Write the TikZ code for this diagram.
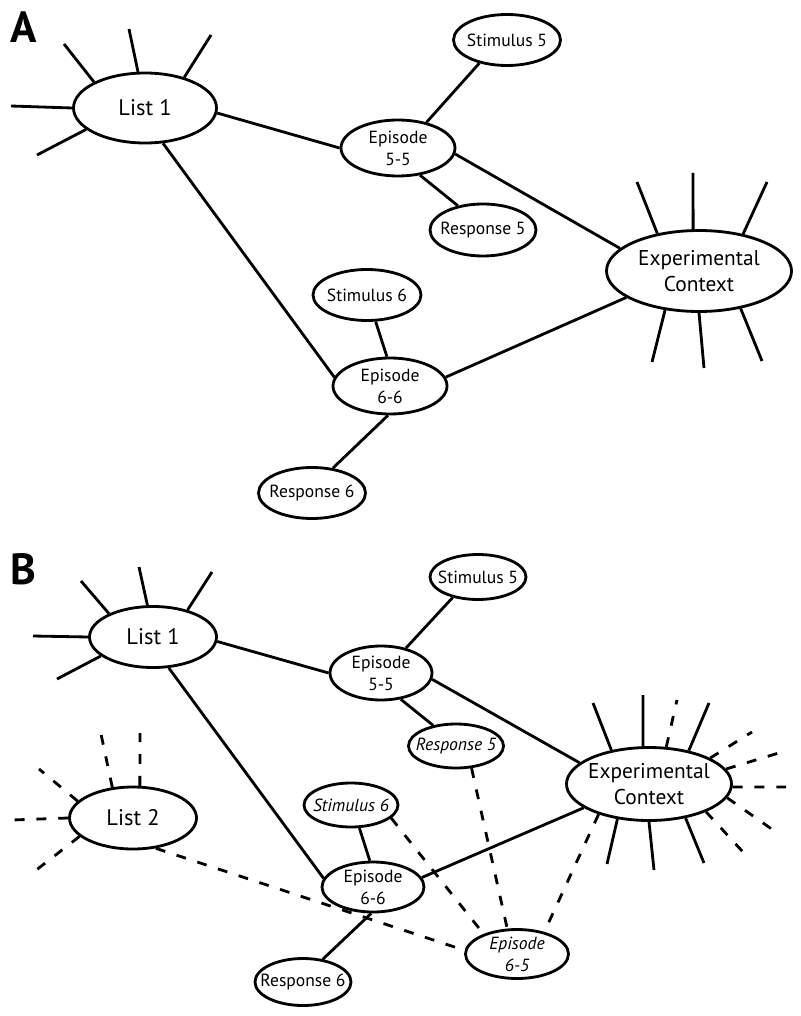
\documentclass[tikz,border=0pt]{standalone}
\usepackage{fontspec}
\setmainfont{PT Sans}
\usetikzlibrary{shapes.geometric}
\newcommand\lblfont{\fontsize{12.5}{15.6}\selectfont}
\newcommand\listfont{\fontsize{16}{19}\selectfont}
\newcommand\ctxfont{\fontsize{15.2}{19}\selectfont}

\begin{document}
\begin{tikzpicture}[x=0.025cm,y=-0.025cm,
    blob/.style={ellipse,draw,line width=2pt,inner sep=0pt,align=center,font=\lblfont},
    sz/.style 2 args={minimum width=#1*0.025cm,minimum height=#2*0.025cm},
    flat/.style={inner xsep=-7.5pt},
    slant/.style={font=\lblfont\itshape},
    big/.style={font=\listfont},
    ctx/.style={font=\ctxfont,inner xsep=-3pt},
    ep/.style={inner ysep=-2pt},
    link/.style={line width=2pt},
    dashlink/.style={line width=2pt,dash pattern=on 7pt off 8.5pt},
    panel/.style={font=\fontsize{31}{31}\selectfont\bfseries}]
    \useasboundingbox (0,0) rectangle (800,1016);

    % panel A
    \node[panel] (labA) at (24,27) {A};
    \node[blob,big,sz={143}{70}] (lstA) at (145,108) {List 1};
    \node[blob,ep,sz={114}{56}] (ep55A) at (398,148) {Episode\\5-5};
    \node[blob,flat,sz={107}{51}] (stim5A) at (507,40) {Stimulus 5};
    \node[blob,flat,sz={106}{52}] (resp5A) at (483,230) {Response 5};
    \node[blob,ctx,sz={185}{81}] (ctxA) at (699,271) {Experimental\\Context};
    \node[blob,flat,sz={108}{51}] (stim6A) at (367,295) {Stimulus 6};
    \node[blob,ep,sz={114}{56}] (ep66A) at (390,386) {Episode\\6-6};
    \node[blob,flat,sz={107}{51}] (resp6A) at (312,493) {Response 6};

    \foreach \a/\x/\y in {153/64/44, 101/129/29, 38/211/35, 180/11/106, 200/37/155}
      \draw[link] (lstA.\a) -- (\x,\y);
    \foreach \a/\x/\y in {138/637/182, 98/693/173, 40/767/182, 229/652/362, 270/704/368, 318/762/361}
      \draw[link] (ctxA.\a) -- (\x,\y);

    \draw[link] (lstA.356) -- (ep55A.180);
    \draw[link] (lstA.297) -- (ep66A.171);
    \draw[link] (stim5A.220) -- (ep55A.42);
    \draw[link] (ep55A.309) -- (resp5A.136);
    \draw[link] (ep55A.354) -- (ctxA.164);
    \draw[link] (stim6A.288) -- (ep66A.96);
    \draw[link] (ep66A.266) -- (resp6A.50);
    \draw[link] (ep66A.9) -- (ctxA.200);

    % panel B
    \node[panel] (labB) at (23,569) {B};
    \node[blob,big,sz={127}{61}] (lstB) at (153,637) {List 1};
    \node[blob,big,sz={127}{62}] (lst2B) at (133,818) {List 2};
    \node[blob,ep,sz={102}{54}] (ep55B) at (381,673) {Episode\\5-5};
    \node[blob,flat,sz={96}{45}] (stim5B) at (478,577) {Stimulus 5};
    \node[blob,flat,slant,sz={95}{44}] (resp5B) at (456,746) {Response 5};
    \node[blob,ctx,sz={165}{73}] (ctxB) at (649,784) {Experimental\\Context};
    \node[blob,flat,slant,sz={94}{44}] (stim6B) at (351,805) {Stimulus 6};
    \node[blob,ep,sz={102}{50}] (ep66B) at (373,887) {Episode\\6-6};
    \node[blob,ep,slant,sz={103}{49}] (ep65B) at (517,954) {Episode\\6-5};
    \node[blob,flat,sz={96}{47}] (resp6B) at (303,982) {Response 6};

    \foreach \a/\x/\y in {152/81/581, 100/139/567, 38/212/572, 180/33/636, 200/57/679}
      \draw[link] (lstB.\a) -- (\x,\y);
    \foreach \a/\x/\y in {124/101/734, 78/140/733, 163/39/769, 180/12/820, 199/35/871}
      \draw[dashlink] (lst2B.\a) -- (\x,\y);
    \foreach \a/\x/\y in {138/593/703, 99/643/695, 40/709/703, 228/607/864, 270/654/870, 317/704/863}
      \draw[link] (ctxB.\a) -- (\x,\y);
    \foreach \a/\x/\y in {65/677/700, 23/752/732, 11/782/752, 358/789/787, 350/773/830, 334/743/852}
      \draw[dashlink] (ctxB.\a) -- (\x,\y);

    \draw[link] (lstB.356) -- (ep55B.180);
    \draw[link] (lstB.297) -- (ep66B.170);
    \draw[link] (stim5B.219) -- (ep55B.45);
    \draw[link] (ep55B.307) -- (resp5B.138);
    \draw[link] (ep55B.353) -- (ctxB.163);
    \draw[link] (stim6B.290) -- (ep66B.97);
    \draw[link] (ep66B.266) -- (resp6B.49);
    \draw[link] (ep66B.11) -- (ctxB.200);

    \draw[dashlink] (stim6B.342) -- (ep65B.149);
    \draw[dashlink] (resp5B.305) -- (ep65B.111);
    \draw[dashlink] (ctxB.211) -- (ep65B.39);
    \draw[dashlink] (lst2B.307) -- (ep65B.176);
\end{tikzpicture}
\end{document}
